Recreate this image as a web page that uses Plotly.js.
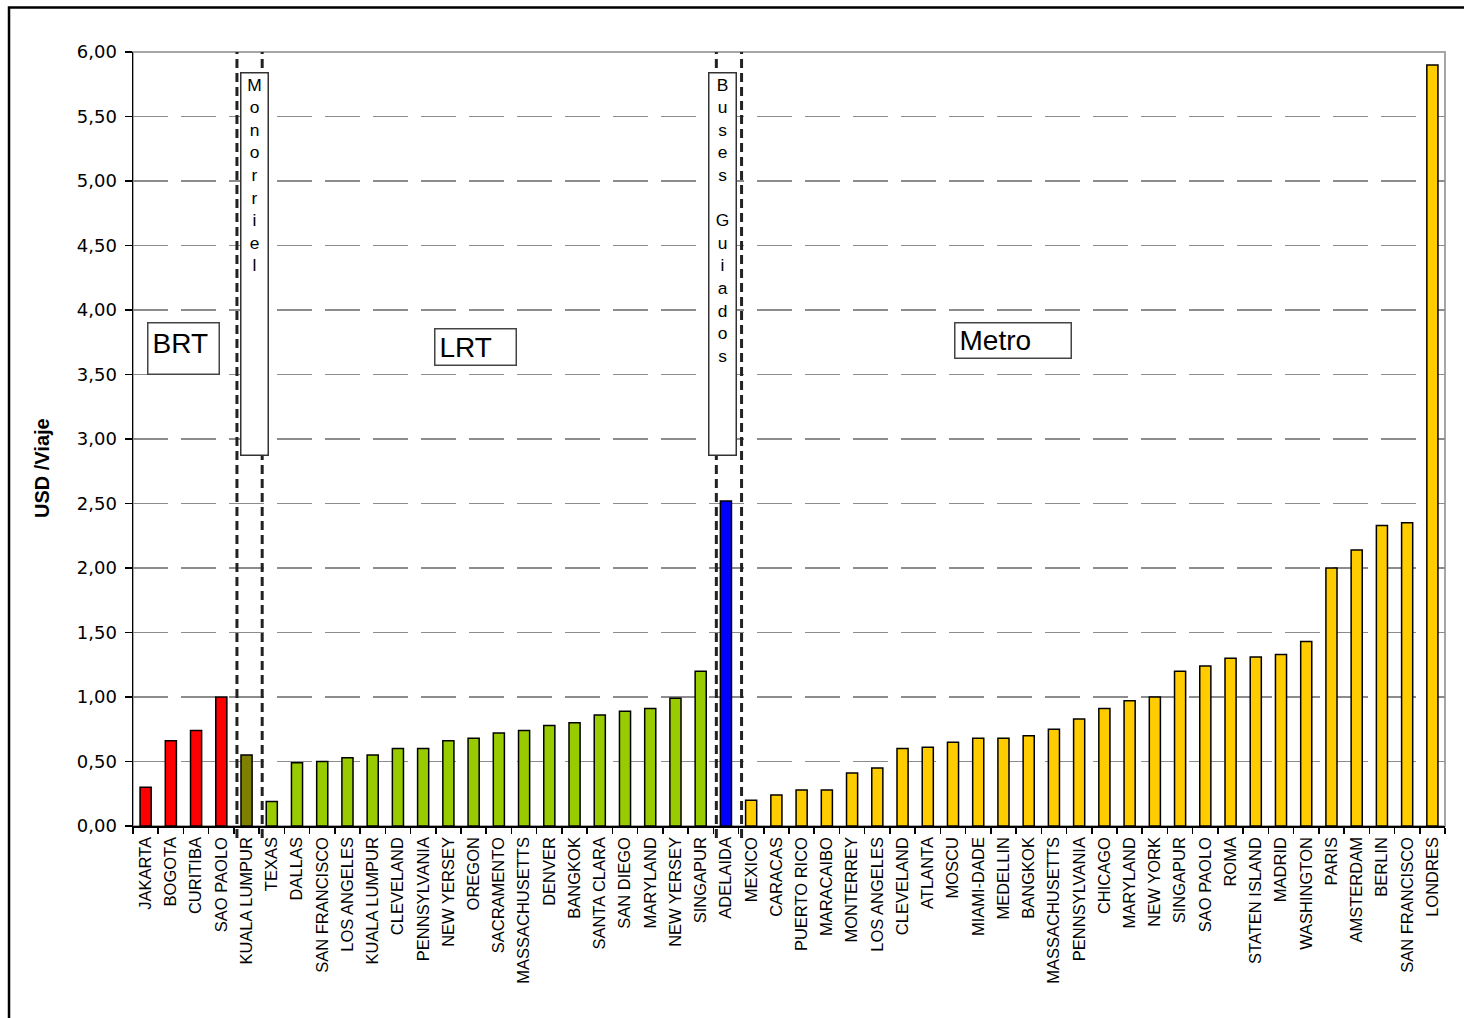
<!DOCTYPE html>
<html><head><meta charset="utf-8">
<script src="https://cdn.plot.ly/plotly-3.0.1.min.js"></script>
<style>html,body{margin:0;padding:0;background:#fff;}</style>
</head><body><div id="chart" style="width:1464px;height:1018px;"></div>
<script>
const brtCities = ['JAKARTA','BOGOTA','CURITIBA','SAO PAOLO'];
const brtValues = [0.30,0.66,0.74,1.00];
const monoCities = ['KUALA LUMPUR'];
const monoValues = [0.55];
const lrtCities = ['TEXAS','DALLAS','SAN FRANCISCO','LOS ANGELES','KUALA LUMPUR','CLEVELAND','PENNSYLVANIA','NEW YERSEY','OREGON','SACRAMENTO','MASSACHUSETTS','DENVER','BANGKOK','SANTA CLARA','SAN DIEGO','MARYLAND','NEW YERSEY','SINGAPUR'];
const lrtValues = [0.19,0.49,0.50,0.53,0.55,0.60,0.60,0.66,0.68,0.72,0.74,0.78,0.80,0.86,0.89,0.91,0.99,1.20];
const busCities = ['ADELAIDA'];
const busValues = [2.52];
const metroCities = ['MEXICO','CARACAS','PUERTO RICO','MARACAIBO','MONTERREY','LOS ANGELES','CLEVELAND','ATLANTA','MOSCU','MIAMI-DADE','MEDELLIN','BANGKOK','MASSACHUSETTS','PENNSYLVANIA','CHICAGO','MARYLAND','NEW YORK','SINGAPUR','SAO PAOLO','ROMA','STATEN ISLAND','MADRID','WASHINGTON','PARIS','AMSTERDAM','BERLIN','SAN FRANCISCO','LONDRES'];
const metroValues = [0.20,0.24,0.28,0.28,0.41,0.45,0.60,0.61,0.65,0.68,0.68,0.70,0.75,0.83,0.91,0.97,1.00,1.20,1.24,1.30,1.31,1.33,1.43,2.00,2.14,2.33,2.35,5.90];

const groups = [
  {name:'BRT', cities:brtCities, values:brtValues, color:'#FF0000'},
  {name:'Monorriel', cities:monoCities, values:monoValues, color:'#808000'},
  {name:'LRT', cities:lrtCities, values:lrtValues, color:'#99CC00'},
  {name:'Buses Guiados', cities:busCities, values:busValues, color:'#0000FF'},
  {name:'Metro', cities:metroCities, values:metroValues, color:'#FFCC00'}
];

const traces = [];
const tickvals = [], ticktext = [];
const boundaries = [];
let offset = 0;
groups.forEach((g, gi) => {
  const xs = g.cities.map((c, i) => offset + i);
  xs.forEach((x, i) => { tickvals.push(x); ticktext.push(g.cities[i]); });
  traces.push({
    type:'bar', name:g.name, x:xs, y:g.values, width:0.44,
    marker:{color:g.color, line:{color:'#000', width:1.5}},
    customdata:g.cities, textposition:'none',
    hovertemplate:'%{customdata}: %{y}<extra></extra>'
  });
  offset += g.cities.length;
  if (gi < groups.length - 1) boundaries.push(offset - 0.5);
});
const nCat = offset;

const shapes = [
  {type:'rect', xref:'paper', yref:'paper', x0:0, x1:1, y0:0, y1:1, line:{color:'#a6a6a6', width:2}, layer:'below'},
  {type:'rect', xref:'paper', yref:'paper', x0:-0.0945, x1:1.2, y0:-0.5, y1:1.0575, line:{color:'#000', width:2.5}, layer:'above'}
];
boundaries.forEach(b => shapes.push({
  type:'line', xref:'x', yref:'paper', x0:b + 0.12, x1:b + 0.12, y0:-0.0155, y1:1,
  line:{color:'#222', width:3, dash:'9px,5px'}, layer:'above'
}));

const vert = s => s.split('').map(ch => ch === ' ' ? '\u00a0' : ch).join('<br>');
const boxFont = {family:'Liberation Sans, Arial, sans-serif', size:28, color:'#000'};
const letterFont = {family:'Liberation Sans, Arial, sans-serif', size:17.4, color:'#000'};
const annotations = [
  {xref:'x', yref:'y', x:1.52, y:3.705, text:'BRT', showarrow:false, font:boxFont,
   bgcolor:'#fff', bordercolor:'#444', borderwidth:1.5, borderpad:4, width:62, height:42, align:'left', valign:'top'},
  {xref:'x', yref:'y', x:13.055, y:3.717, text:'LRT', showarrow:false, font:boxFont,
   bgcolor:'#fff', bordercolor:'#444', borderwidth:1.5, borderpad:4, width:72, height:27, align:'left', valign:'middle'},
  {xref:'x', yref:'y', x:34.397, y:3.767, text:'Metro', showarrow:false, font:boxFont,
   bgcolor:'#fff', bordercolor:'#444', borderwidth:1.5, borderpad:4, width:107, height:26, align:'left', valign:'middle'},
  {xref:'x', yref:'y', x:4.3, y:4.36, text:vert('Monorriel'), showarrow:false, font:letterFont,
   bgcolor:'#fff', bordercolor:'#333', borderwidth:1.5, borderpad:1, width:24, height:379, align:'center', valign:'top'},
  {xref:'x', yref:'y', x:22.85, y:4.36, text:vert('Buses Guiados'), showarrow:false, font:letterFont,
   bgcolor:'#fff', bordercolor:'#333', borderwidth:1.5, borderpad:1, width:24, height:379, align:'center', valign:'top'},
  {xref:'paper', yref:'paper', x:-0.0694, y:0.4625, xanchor:'center', yanchor:'middle',
   text:'<b>USD /Viaje</b>', textangle:-90, showarrow:false,
   font:{family:'Liberation Sans, Arial, sans-serif', size:20, color:'#000'}}
];

const layout = {
  width:1464, height:1018,
  margin:{l:133, r:19, t:52, b:192, pad:0},
  paper_bgcolor:'#fff', plot_bgcolor:'#fff',
  showlegend:false, barmode:'overlay',
  separators:',.',
  xaxis:{
    range:[-0.5, nCat - 0.5], tickmode:'array', tickvals:tickvals, ticktext:ticktext,
    tickangle:-90, ticks:'', showgrid:false, zeroline:false,
    showline:true, linecolor:'#000', linewidth:1.5, ticklabelstandoff:3,
    tickfont:{family:'Liberation Sans, Arial, sans-serif', size:16.5, color:'#000'},
    minor:{tickmode:'linear', tick0:-0.5, dtick:1, ticks:'outside', ticklen:6, tickcolor:'#000', tickwidth:1.5, showgrid:false}
  },
  yaxis:{
    range:[0, 6], tickmode:'linear', tick0:0, dtick:0.5, tickformat:'.2f',
    ticks:'outside', ticklen:7, tickcolor:'#000', tickwidth:1.5, ticklabelstandoff:4,
    showline:true, linecolor:'#000', linewidth:1.5, zeroline:false,
    showgrid:true, gridcolor:'#8c8c8c', gridwidth:1.5, griddash:'35px,13px',
    tickfont:{family:'DejaVu Sans, sans-serif', size:18, color:'#000'}
  },
  shapes:shapes, annotations:annotations
};

Plotly.newPlot('chart', traces, layout, {displayModeBar:false, staticPlot:true});
</script></body></html>
